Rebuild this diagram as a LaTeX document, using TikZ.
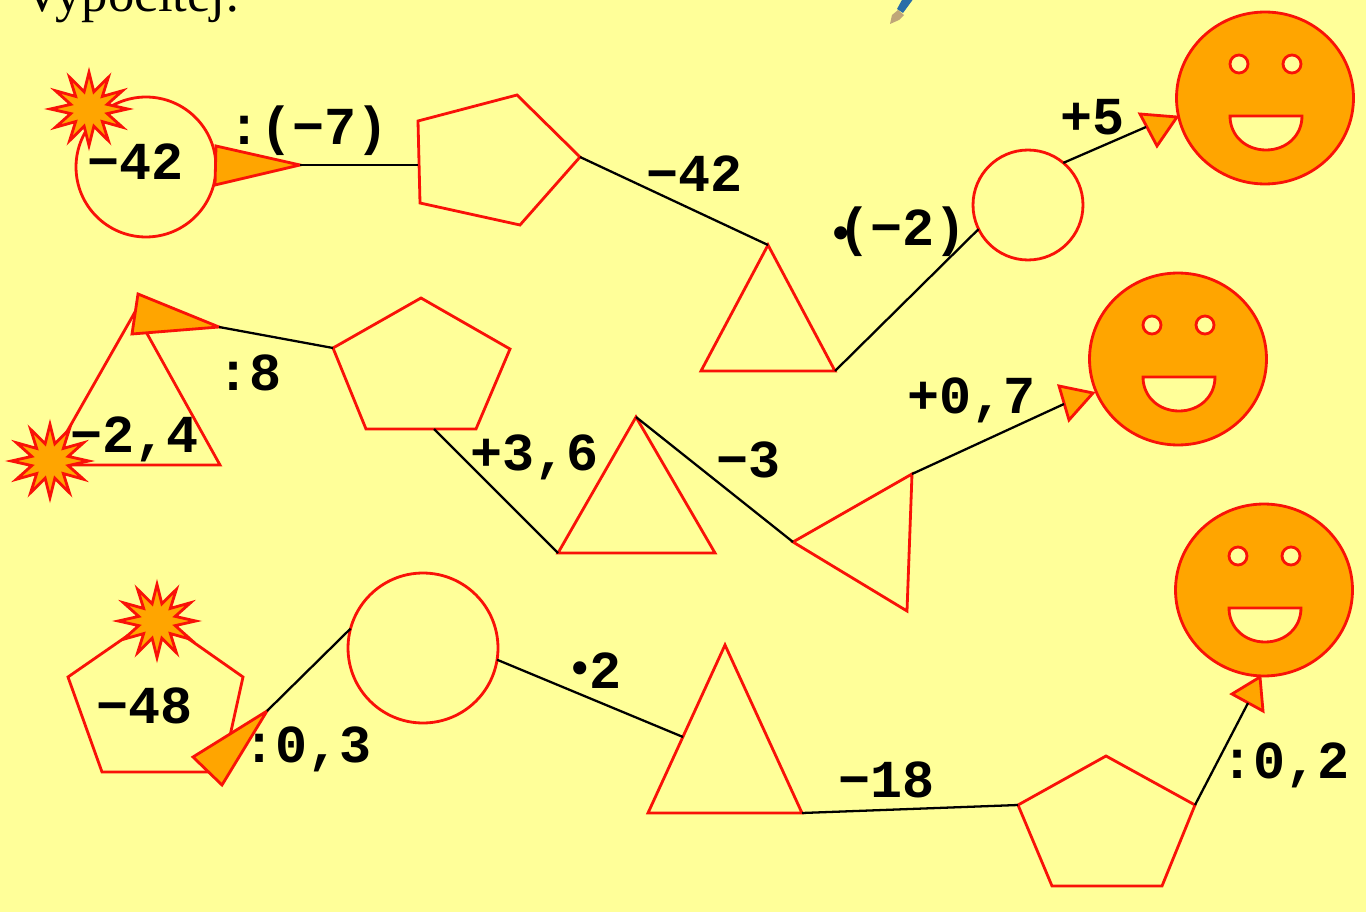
\documentclass[tikz,border=0pt]{standalone}
\usepackage{fontspec}
\setmainfont{Liberation Serif}
\newfontfamily\lblfont{Liberation Mono}
\usetikzlibrary{shapes.geometric}
\definecolor{paper}{HTML}{FFFF99}
\definecolor{tipfill}{HTML}{FFA500}
\definecolor{outline}{HTML}{F91208}
\definecolor{pennib}{HTML}{BFA678}
\definecolor{penbody}{HTML}{2A6EA8}
\tikzset{
  shapeline/.style={draw=outline,line width=1.6pt,line join=miter},
  linkline/.style={draw=black,line width=1.3pt},
  tiparrow/.style={shapeline,fill=tipfill},
  ringnode/.style={circle,shapeline,inner sep=0pt,outer sep=0pt},
  sun/.style={star,star points=12,star point ratio=2.05,draw=outline,line width=1.6pt,fill=tipfill,inner sep=0pt,minimum size=1.46cm,xscale=1.06,transform shape},
  face/.style={ellipse,shapeline,fill=tipfill,inner sep=0pt,outer sep=0pt,minimum width=3.54cm,minimum height=3.44cm},
  lbl/.style={anchor=base west,inner sep=0pt,font=\lblfont\bfseries\fontsize{30.4}{32}\selectfont}
}
\newcommand{\bigdot}[1]{\raisebox{#1}{\fontsize{26}{26}\selectfont •}}
\begin{document}
\begin{tikzpicture}[x=0.02cm,y=-0.02cm]
\useasboundingbox (0,0) rectangle (1366,912);
\fill[paper] (0,0) rectangle (1366,912);
\node[anchor=base west,inner sep=0pt,font=\fontsize{30}{32}\selectfont] (title) at (23,12) {Vypočítej:};
\fill[pennib] (890,24) -- (892,15) -- (898,10) -- (904,15) -- (899,20) -- cycle;
\fill[penbody] (897,9) -- (903,-2) -- (914,-2) -- (903,13) -- cycle;
% first row
\node[ringnode,minimum size=2.8cm] (ringA) at (146,167) {};
\draw[shapeline] (418,121) coordinate (penAl) -- (517,95) -- (580,157) coordinate (penAr) -- (520,225) -- (420,203) -- cycle;
\draw[shapeline] (768,245) coordinate (triAt) -- (701,371) -- (835,371) coordinate (triAr) -- cycle;
\node[ringnode,minimum size=2.2cm] (ringB) at (1028,205) {};
\draw[tiparrow] (216,146) -- (300,165) coordinate (tipA) -- (215,185) -- cycle;
\draw[tiparrow] (1140,114) -- (1177,117) -- (1157,146) -- cycle;
\coordinate (tipB) at (1146,127);
\draw[linkline] (tipA) -- (penAl |- tipA);
\draw[linkline] (penAr) -- (triAt);
\draw[linkline] (triAr) -- (ringB.206);
\draw[linkline] (ringB.50) -- (tipB);
\node[sun] (sunA) at (89,109) {};
% second row
\draw[shapeline] (135,312) -- (48,465) -- (220,465) -- cycle;
\draw[shapeline] (333,348) coordinate (penBl) -- (421,298) -- (510,349) -- (476,429) -- (366,429) -- cycle;
\coordinate (penBb) at (434,429);
\draw[shapeline] (636,417) coordinate (triCt) -- (558,553) coordinate (triCl) -- (715,553) -- cycle;
\draw[shapeline] (793,542) coordinate (triDl) -- (912,474) coordinate (triDt) -- (907,611) -- cycle;
\draw[tiparrow] (138,294) -- (219,327) coordinate (tipC) -- (132,334) -- cycle;
\draw[tiparrow] (1059,386) -- (1093,393) -- (1069,420) -- cycle;
\coordinate (tipD) at (1064,404);
\draw[linkline] (tipC) -- (penBl);
\draw[linkline] (penBb) -- (triCl);
\draw[linkline] (triCt) -- (triDl);
\draw[linkline] (triDt) -- (tipD);
\node[sun] (sunB) at (50,461) {};
% third row
\draw[shapeline] (68,677) -- (156,616) -- (243,677) -- (222,772) -- (102,772) -- cycle;
\node[ringnode,minimum size=3cm] (ringC) at (423,648) {};
\draw[shapeline] (725,645) -- (648,813) coordinate (triEl) -- (802,813) coordinate (triEr) -- cycle;
\coordinate (triEs) at (683,737);
\draw[shapeline] (1018,805) coordinate (penCl) -- (1106,756) -- (1195,805) coordinate (penCr) -- (1162,886) -- (1052,886) -- cycle;
\draw[tiparrow] (267,711) coordinate (tipE) -- (193,757) -- (222,785) -- cycle;
\draw[tiparrow] (1232,694) -- (1260,677) -- (1263,711) -- cycle;
\coordinate (tipF) at (1248,703);
\draw[linkline] (tipE) -- (ringC.165);
\draw[linkline] (ringC.-9) -- (triEs);
\draw[linkline] (triEr) -- (penCl);
\draw[linkline] (penCr) -- (tipF);
\node[sun] (sunC) at (157,621) {};
% smiling faces
\foreach \nm/\cx/\cy in {faceA/1265/98,faceB/1178/359,faceC/1264/590}{
  \node[face] (\nm) at (\cx,\cy) {};
  \draw[shapeline,fill=paper] (\cx-26,\cy-34) circle (9);
  \draw[shapeline,fill=paper] (\cx+27,\cy-34) circle (9);
  \draw[shapeline,fill=paper] (\cx-35,\cy+18) .. controls (\cx-35,\cy+38) and (\cx-19,\cy+52) .. (\cx+1,\cy+52) .. controls (\cx+21,\cy+52) and (\cx+37,\cy+38) .. (\cx+37,\cy+18) -- cycle;
}
% labels
\node[lbl] (lblA) at (87,180) {−42};
\node[lbl] (lblB) at (228,145) {:(−7)};
\node[lbl] (lblC) at (646,192) {−42};
\node[lbl] (lblD) at (827,246) {\bigdot{-1.7pt}\kern-9.5pt(−2)};
\node[lbl] (lblE) at (1060,135) {+5};
\node[lbl] (lblF) at (217,390) {:8};
\node[lbl] (lblG) at (70,452) {−2,4};
\node[lbl] (lblH) at (470,470) {+3,6};
\node[lbl] (lblI) at (716,477) {−3};
\node[lbl] (lblJ) at (907,413) {+0,7};
\node[lbl] (lblK) at (96,723) {−48};
\node[lbl] (lblL) at (243,762) {:0,3};
\node[lbl] (lblM) at (566,688) {\bigdot{2.3pt}\kern-2.3pt 2};
\node[lbl] (lblN) at (838,797) {−18};
\node[lbl] (lblO) at (1221,778) {:0,2};
\end{tikzpicture}
\end{document}
